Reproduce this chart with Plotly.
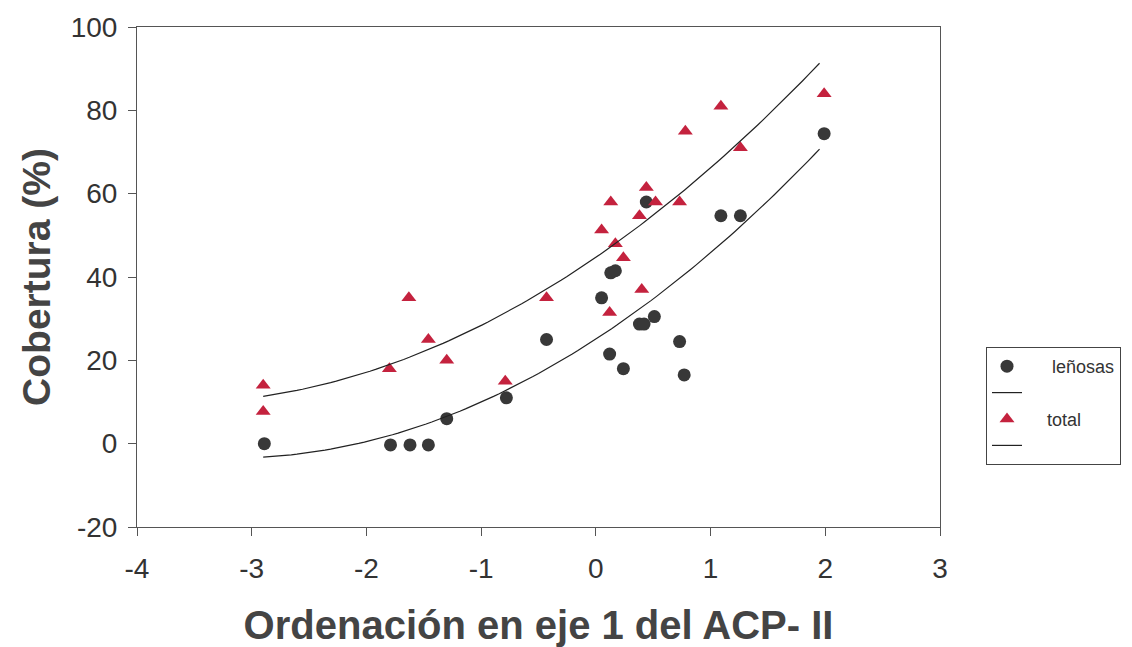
import numpy as np
import plotly.graph_objects as go

# leñosas (circles)
len_x = [-2.89, -1.79, -1.62, -1.46, -1.30, -0.78, -0.43, 0.05, 0.13, 0.17, 0.12, 0.24,
         0.38, 0.42, 0.51, 0.44, 0.73, 0.77, 1.09, 1.26, 1.99]
len_y = [0.0, -0.3, -0.3, -0.3, 6.0, 11.0, 25.0, 35.0, 41.0, 41.5, 21.5, 18.0,
         28.7, 28.7, 30.5, 58.0, 24.5, 16.5, 54.7, 54.7, 74.4]

# total (triangles)
tot_x = [-2.90, -2.90, -1.80, -1.63, -1.46, -1.30, -0.79, -0.43, 0.05, 0.13, 0.17, 0.24,
         0.12, 0.40, 0.38, 0.44, 0.52, 0.73, 0.78, 1.09, 1.26, 1.99]
tot_y = [14.0, 7.7, 18.0, 35.0, 25.0, 20.0, 15.0, 35.0, 51.3, 58.0, 48.0, 44.6,
         31.5, 37.0, 54.7, 61.5, 58.0, 58.0, 75.0, 81.0, 71.0, 84.0]

x_ticks = [-4, -3, -2, -1, 0, 1, 2, 3]
x_labels = ["-4", "-3", "-2", "-1", "0", "1", "2", "3"]
y_ticks = [-20, 0, 20, 40, 60, 80, 100]
y_labels = ["-20", "0", "20", "40", "60", "80", "100"]

fit_range = [-2.9, 1.95]

def quad_fit(xs, ys):
    c = np.polyfit(xs, ys, 2)
    xx = np.linspace(fit_range[0], fit_range[1], 100)
    return xx, np.polyval(c, xx)

fx1, fy1 = quad_fit(len_x, len_y)
fx2, fy2 = quad_fit(tot_x, tot_y)

font = "Liberation Sans, Arial, sans-serif"
NB = "\u00a0"

fig = go.Figure()
fig.add_trace(go.Scatter(x=len_x, y=len_y, mode="markers", name=NB * 5 + "leñosas",
                         marker=dict(symbol="circle", size=13, color="#383838",
                                     line=dict(width=0))))
fig.add_trace(go.Scatter(x=fx1, y=fy1, mode="lines", name=NB,
                         line=dict(color="#222222", width=1.2)))
fig.add_trace(go.Scatter(x=tot_x, y=tot_y, mode="markers", name=NB * 4 + "total",
                         marker=dict(symbol="triangle-up", size=13, color="#c4223e",
                                     line=dict(width=0))))
fig.add_trace(go.Scatter(x=fx2, y=fy2, mode="lines", name=NB + NB,
                         line=dict(color="#222222", width=1.2)))

fig.update_layout(
    width=1132, height=647,
    margin=dict(l=137, r=192, t=27, b=120, autoexpand=False),
    paper_bgcolor="white", plot_bgcolor="white",
    font=dict(family=font, color="#333333"),
    showlegend=True,
    legend=dict(x=(986 - 137) / 803, y=(527 - 347) / 500, xanchor="left", yanchor="top",
                bordercolor="#444444", borderwidth=1,
                font=dict(size=18, family=font, color="#333333"),
                tracegroupgap=0),
    xaxis=dict(range=[-4, 3], tickvals=x_ticks, ticktext=x_labels,
               showgrid=False, zeroline=False,
               showline=True, linecolor="#555555", linewidth=1, mirror=True,
               ticks="outside", ticklen=8, tickcolor="#555555", ticklabelstandoff=8,
               tickfont=dict(size=28, family=font, color="#333333"),
               title=dict(text="<b>Ordenación en eje 1 del ACP- II</b>",
                          font=dict(size=40, family=font, color="#444444"),
                          standoff=30)),
    yaxis=dict(range=[-20, 100], tickvals=y_ticks, ticktext=y_labels,
               showgrid=False, zeroline=False,
               showline=True, linecolor="#555555", linewidth=1, mirror=True,
               ticks="outside", ticklen=8, tickcolor="#555555", ticklabelstandoff=5,
               tickfont=dict(size=28, family=font, color="#333333"),
               title=dict(text="<b>Cobertura (%)</b>",
                          font=dict(size=39, family=font, color="#444444"),
                          standoff=8)),
)

fig.write_html("out.html")
